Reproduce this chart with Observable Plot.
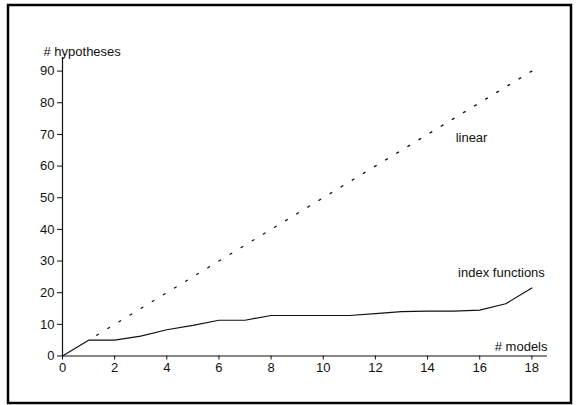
<!DOCTYPE html>
<html>
<head>
<meta charset="utf-8">
<script src="https://cdn.jsdelivr.net/npm/d3@7"></script>
<script src="https://cdn.jsdelivr.net/npm/@observablehq/plot@0.6"></script>
<style>
  html, body { margin: 0; padding: 0; background: #fff; }
  #chart svg { display: block; }
</style>
</head>
<body>
<div id="chart"></div>
<script>
// # models (x)
const models = [0, 1, 2, 3, 4, 5, 6, 7, 8, 9, 10, 11, 12, 13, 14, 15, 16, 17, 18];
// # hypotheses for index functions
const indexFunctions = [0, 5, 5, 6.3, 8.3, 9.7, 11.3, 11.3, 12.8, 12.8, 12.8, 12.8, 13.4, 14, 14.2, 14.2, 14.5, 16.5, 21.5];
// linear series (models 1..18)
const linearModels = [1, 2, 3, 4, 5, 6, 7, 8, 9, 10, 11, 12, 13, 14, 15, 16, 17, 18];
const linearValues = [5, 10, 15, 20, 25, 30, 35, 40, 45, 50, 55, 60, 65, 70, 75, 80, 85, 90];
// ticks
const xTicks = [0, 2, 4, 6, 8, 10, 12, 14, 16, 18];
const yTicks = [0, 10, 20, 30, 40, 50, 60, 70, 80, 90];
const seriesNames = ["linear", "index functions"];
const axisTitles = ["# models", "# hypotheses"];

const indexData = models.map((m, i) => ({x: m, y: indexFunctions[i]}));
const linearData = linearModels.map((m, i) => ({x: m, y: linearValues[i]}));

const font = "'Liberation Sans', Arial, Helvetica, sans-serif";

const plot = Plot.plot({
  width: 577,
  height: 405,
  marginLeft: 62,
  marginRight: 30,
  marginTop: 57,
  marginBottom: 49.5,
  style: {fontFamily: font, fontSize: "13px", color: "#111", background: "#fff"},
  x: {domain: [0, 18.6], ticks: xTicks, tickSize: 4, tickPadding: 3, label: null},
  y: {domain: [0, 94.3], ticks: yTicks, tickSize: 5, tickPadding: 3, label: null},
  marks: [
    Plot.axisX({ticks: xTicks, tickSize: 4, tickPadding: 3, label: null, stroke: "#111", fontSize: 13}),
    Plot.axisY({ticks: yTicks, tickSize: 5, tickPadding: 3, label: null, stroke: "#111", fontSize: 13}),
    Plot.ruleY([0], {stroke: "#111", strokeWidth: 1.2}),
    Plot.ruleX([0], {stroke: "#111", strokeWidth: 1.2}),
    Plot.line(linearData, {x: "x", y: "y", stroke: "#111", strokeWidth: 1.3, strokeDasharray: "2,11", strokeDashoffset: 3.5}),
    Plot.line(indexData, {x: "x", y: "y", stroke: "#111", strokeWidth: 1.2}),
    // series labels anchored to series points
    Plot.text([linearData[14]], {x: "x", y: "y", text: () => seriesNames[0], textAnchor: "start", dx: 2, dy: 19, fill: "#111", fontSize: 13}),
    Plot.text([indexData[18]], {x: "x", y: "y", text: () => seriesNames[1], textAnchor: "end", dx: 13, dy: -15, fill: "#111", fontSize: 13}),
    // axis titles
    Plot.text([axisTitles[0]], {frameAnchor: "bottom-right", textAnchor: "end", lineAnchor: "bottom", dy: -5.5, fill: "#111", fontSize: 13}),
    Plot.text([axisTitles[1]], {frameAnchor: "top-left", textAnchor: "start", lineAnchor: "bottom", dx: -19, dy: -2, fill: "#111", fontSize: 13})
  ]
});

document.getElementById("chart").appendChild(plot);

// outer frame around the whole figure
d3.select(plot).append("rect")
  .attr("x", 8).attr("y", 5)
  .attr("width", 563).attr("height", 398)
  .attr("fill", "none").attr("stroke", "#000").attr("stroke-width", 2.5);
</script>
</body>
</html>
